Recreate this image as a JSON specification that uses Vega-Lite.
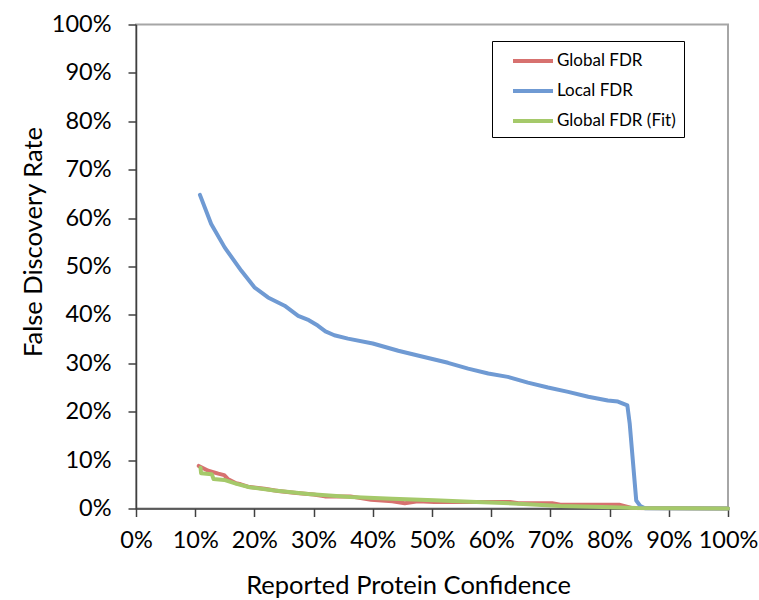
{
  "$schema": "https://vega.github.io/schema/vega-lite/v6.json",
  "width": 592,
  "height": 484,
  "padding": {"left": 21, "top": -29.5, "right": 29, "bottom": 2},
  "background": "white",
  "title": {"text": "Protein Reported vs. Estimated FDR", "font": "Lato", "fontSize": 24, "fontWeight": "bold", "color": "#000000", "offset": 18},
  "data": {"values": [
    {"series": "Global FDR", "confidence": 0.106, "fdr": 0.088},
    {"series": "Global FDR", "confidence": 0.122, "fdr": 0.078},
    {"series": "Global FDR", "confidence": 0.139, "fdr": 0.072},
    {"series": "Global FDR", "confidence": 0.149, "fdr": 0.069},
    {"series": "Global FDR", "confidence": 0.155, "fdr": 0.061},
    {"series": "Global FDR", "confidence": 0.169, "fdr": 0.052},
    {"series": "Global FDR", "confidence": 0.177, "fdr": 0.050},
    {"series": "Global FDR", "confidence": 0.189, "fdr": 0.045},
    {"series": "Global FDR", "confidence": 0.217, "fdr": 0.041},
    {"series": "Global FDR", "confidence": 0.240, "fdr": 0.036},
    {"series": "Global FDR", "confidence": 0.271, "fdr": 0.032},
    {"series": "Global FDR", "confidence": 0.300, "fdr": 0.029},
    {"series": "Global FDR", "confidence": 0.319, "fdr": 0.025},
    {"series": "Global FDR", "confidence": 0.362, "fdr": 0.025},
    {"series": "Global FDR", "confidence": 0.397, "fdr": 0.018},
    {"series": "Global FDR", "confidence": 0.433, "fdr": 0.015},
    {"series": "Global FDR", "confidence": 0.454, "fdr": 0.011},
    {"series": "Global FDR", "confidence": 0.476, "fdr": 0.015},
    {"series": "Global FDR", "confidence": 0.504, "fdr": 0.0135},
    {"series": "Global FDR", "confidence": 0.575, "fdr": 0.0135},
    {"series": "Global FDR", "confidence": 0.632, "fdr": 0.0135},
    {"series": "Global FDR", "confidence": 0.646, "fdr": 0.011},
    {"series": "Global FDR", "confidence": 0.703, "fdr": 0.011},
    {"series": "Global FDR", "confidence": 0.717, "fdr": 0.008},
    {"series": "Global FDR", "confidence": 0.816, "fdr": 0.008},
    {"series": "Global FDR", "confidence": 0.837, "fdr": 0.001},
    {"series": "Global FDR", "confidence": 1.0, "fdr": 0.0},
    {"series": "Local FDR", "confidence": 0.108, "fdr": 0.648},
    {"series": "Local FDR", "confidence": 0.127, "fdr": 0.588},
    {"series": "Local FDR", "confidence": 0.150, "fdr": 0.539},
    {"series": "Local FDR", "confidence": 0.178, "fdr": 0.491},
    {"series": "Local FDR", "confidence": 0.200, "fdr": 0.457},
    {"series": "Local FDR", "confidence": 0.223, "fdr": 0.436},
    {"series": "Local FDR", "confidence": 0.251, "fdr": 0.419},
    {"series": "Local FDR", "confidence": 0.274, "fdr": 0.398},
    {"series": "Local FDR", "confidence": 0.292, "fdr": 0.389},
    {"series": "Local FDR", "confidence": 0.307, "fdr": 0.378},
    {"series": "Local FDR", "confidence": 0.320, "fdr": 0.366},
    {"series": "Local FDR", "confidence": 0.335, "fdr": 0.358},
    {"series": "Local FDR", "confidence": 0.358, "fdr": 0.351},
    {"series": "Local FDR", "confidence": 0.400, "fdr": 0.341},
    {"series": "Local FDR", "confidence": 0.443, "fdr": 0.326},
    {"series": "Local FDR", "confidence": 0.476, "fdr": 0.316},
    {"series": "Local FDR", "confidence": 0.527, "fdr": 0.301},
    {"series": "Local FDR", "confidence": 0.561, "fdr": 0.289},
    {"series": "Local FDR", "confidence": 0.595, "fdr": 0.279},
    {"series": "Local FDR", "confidence": 0.628, "fdr": 0.272},
    {"series": "Local FDR", "confidence": 0.662, "fdr": 0.260},
    {"series": "Local FDR", "confidence": 0.696, "fdr": 0.250},
    {"series": "Local FDR", "confidence": 0.730, "fdr": 0.241},
    {"series": "Local FDR", "confidence": 0.764, "fdr": 0.231},
    {"series": "Local FDR", "confidence": 0.797, "fdr": 0.223},
    {"series": "Local FDR", "confidence": 0.814, "fdr": 0.221},
    {"series": "Local FDR", "confidence": 0.830, "fdr": 0.213},
    {"series": "Local FDR", "confidence": 0.834, "fdr": 0.175},
    {"series": "Local FDR", "confidence": 0.845, "fdr": 0.0165},
    {"series": "Local FDR", "confidence": 0.852, "fdr": 0.005},
    {"series": "Local FDR", "confidence": 0.860, "fdr": 0.0005},
    {"series": "Local FDR", "confidence": 1.0, "fdr": 0.0},
    {"series": "Global FDR (Fit)", "confidence": 0.109, "fdr": 0.084},
    {"series": "Global FDR (Fit)", "confidence": 0.110, "fdr": 0.073},
    {"series": "Global FDR (Fit)", "confidence": 0.128, "fdr": 0.071},
    {"series": "Global FDR (Fit)", "confidence": 0.131, "fdr": 0.061},
    {"series": "Global FDR (Fit)", "confidence": 0.149, "fdr": 0.059},
    {"series": "Global FDR (Fit)", "confidence": 0.170, "fdr": 0.051},
    {"series": "Global FDR (Fit)", "confidence": 0.192, "fdr": 0.044},
    {"series": "Global FDR (Fit)", "confidence": 0.234, "fdr": 0.037},
    {"series": "Global FDR (Fit)", "confidence": 0.291, "fdr": 0.030},
    {"series": "Global FDR (Fit)", "confidence": 0.362, "fdr": 0.024},
    {"series": "Global FDR (Fit)", "confidence": 0.433, "fdr": 0.020},
    {"series": "Global FDR (Fit)", "confidence": 0.504, "fdr": 0.017},
    {"series": "Global FDR (Fit)", "confidence": 0.575, "fdr": 0.0135},
    {"series": "Global FDR (Fit)", "confidence": 0.646, "fdr": 0.010},
    {"series": "Global FDR (Fit)", "confidence": 0.717, "fdr": 0.005},
    {"series": "Global FDR (Fit)", "confidence": 0.788, "fdr": 0.003},
    {"series": "Global FDR (Fit)", "confidence": 0.845, "fdr": 0.001},
    {"series": "Global FDR (Fit)", "confidence": 1.0, "fdr": 0.0}
  ]},
  "mark": {"type": "line", "strokeJoin": "round", "strokeCap": "round"},
  "encoding": {
    "x": {
      "field": "confidence", "type": "quantitative",
      "scale": {"domain": [0, 1], "nice": false},
      "axis": {
        "title": "Reported Protein Confidence",
        "format": "%",
        "values": [0, 0.1, 0.2, 0.3, 0.4, 0.5, 0.6, 0.7, 0.8, 0.9, 1],
        "labelOverlap": false,
        "labelFlush": false,
        "labelPadding": 12,
        "titlePadding": 21,
        "titleX": 272
      }
    },
    "y": {
      "field": "fdr", "type": "quantitative",
      "scale": {"domain": [0, 1], "nice": false},
      "axis": {
        "title": "False Discovery Rate",
        "format": "%",
        "values": [0, 0.1, 0.2, 0.3, 0.4, 0.5, 0.6, 0.7, 0.8, 0.9, 1],
        "labelOverlap": false,
        "labelFlush": false,
        "labelPadding": 17,
        "titlePadding": 5,
        "titleY": 217
      }
    },
    "color": {
      "field": "series", "type": "nominal",
      "scale": {"domain": ["Global FDR", "Local FDR", "Global FDR (Fit)"], "range": ["#D7716F", "#6F9AD3", "#A5C96A"]},
      "legend": {
        "title": null,
        "orient": "none",
        "legendX": 356,
        "legendY": 16.5,
        "strokeColor": "#000000",
        "fillColor": "#ffffff",
        "padding": 8,
        "symbolType": "M0.1,0H4.1",
        "symbolSize": 400,
        "labelOffset": 33,
        "rowPadding": 10,
        "labelFont": "Lato",
        "labelFontSize": 17,
        "labelColor": "#000000"
      }
    },
    "strokeWidth": {
      "field": "series", "type": "nominal",
      "scale": {"domain": ["Global FDR", "Local FDR", "Global FDR (Fit)"], "range": [4, 4, 2.5]}
    }
  },
  "config": {
    "font": "Lato",
    "view": {"stroke": "#a6a6a6", "strokeWidth": 2},
    "axis": {
      "grid": false,
      "labelFont": "Lato",
      "labelFontSize": 23.5,
      "labelColor": "#000000",
      "titleFont": "Lato",
      "titleFontSize": 25.5,
      "titleFontWeight": "normal",
      "titleColor": "#000000",
      "domainColor": "#404040",
      "domainWidth": 1.5,
      "tickColor": "#404040",
      "tickWidth": 1.5,
      "tickSize": 8
    }
  }
}
